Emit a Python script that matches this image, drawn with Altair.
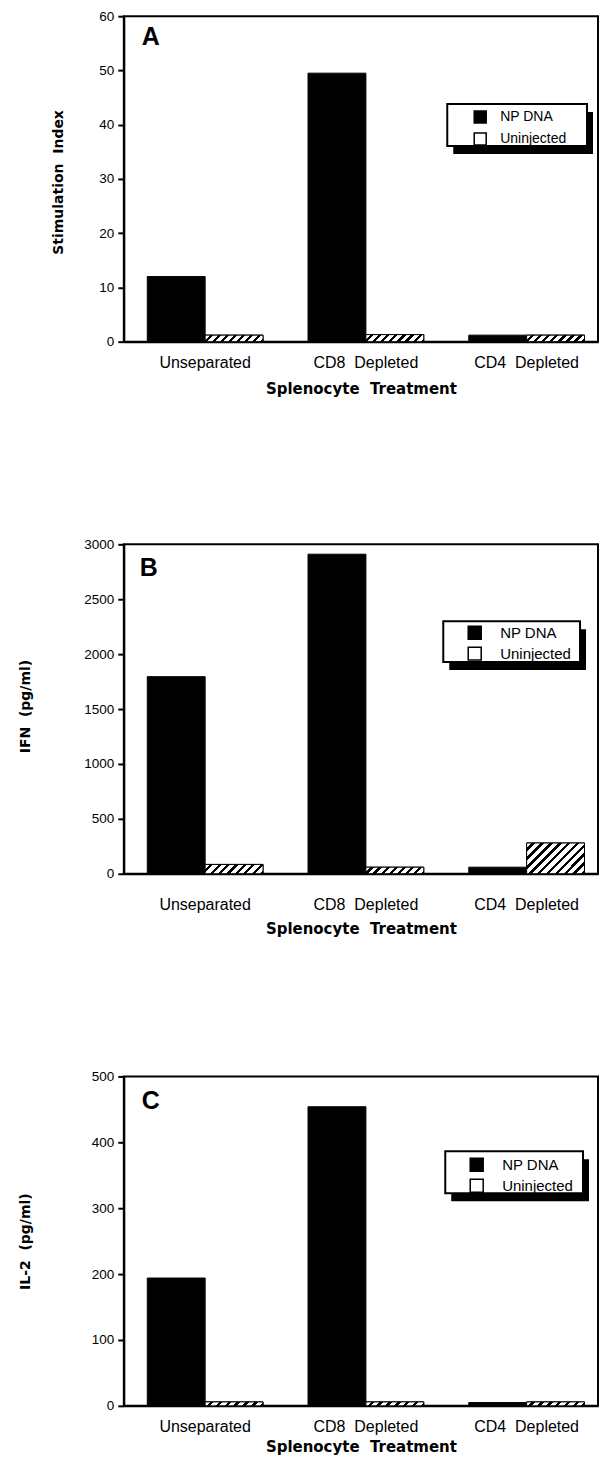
import altair as alt
import pandas as pd

# ---------------- data ----------------
NB = "\u00a0"
treatments = ["Unseparated", "CD8" + NB * 2 + "Depleted", "CD4" + NB * 2 + "Depleted"]
groups = ["NP DNA", "Uninjected"]

# Panel A - Stimulation Index
si_np = [12.0, 49.5, 1.2]
si_un = [1.2, 1.3, 1.2]
# Panel B - IFN (pg/ml)
ifn_np = [1795, 2910, 60]
ifn_un = [85, 60, 280]
# Panel C - IL-2 (pg/ml)
il2_np = [194, 454, 5]
il2_un = [6, 6, 6]

si_ticks = [0, 10, 20, 30, 40, 50, 60]
ifn_ticks = [0, 500, 1000, 1500, 2000, 2500, 3000]
il2_ticks = [0, 100, 200, 300, 400, 500]

# ---------------- styling ----------------
FONT = "Liberation Sans"
TFONT = "DejaVu Sans"
W = 475
BAR_W = 58.0


def hatch(h_px, w_px=BAR_W, period=6.0, ink=0.4):
    """45-degree '/' hatch as a striped linear gradient (style only)."""
    h_px = max(h_px, 1.0)
    s = (w_px + h_px) / (w_px ** 2 + h_px ** 2)
    a, b = w_px * s, h_px * s
    k_n = max(1, round((w_px + h_px) / (2 ** 0.5 * period)))
    stops = []
    for k in range(k_n):
        t0 = k / k_n
        tm = (k + 1 - ink) / k_n
        t1 = (k + 1) / k_n
        stops += [
            alt.GradientStop(color="white", offset=t0),
            alt.GradientStop(color="white", offset=tm),
            alt.GradientStop(color="black", offset=tm),
            alt.GradientStop(color="black", offset=t1),
        ]
    return alt.LinearGradient(gradient="linear", stops=stops, x1=0, y1=0, x2=a, y2=b)


def panel(letter, np_vals, un_vals, ytitle, ymax, ticks, height, o):
    df = pd.DataFrame({
        "treatment": [t for t in treatments for _ in groups],
        "group": groups * len(treatments),
        "value": [v for pair in zip(np_vals, un_vals) for v in pair],
    })
    base = alt.Chart(df).encode(
        x=alt.X(
            "treatment:N",
            sort=treatments,
            scale=alt.Scale(domain=treatments, paddingInner=0.28,
                            paddingOuter=0.115, align=0.635),
            axis=alt.Axis(
                title="Splenocyte" + NB * 2 + "Treatment", labelAngle=0,
                ticks=False, tickSize=0, labelPadding=o["xlp"],
                labelFont=FONT, labelFontSize=16, labelColor="black",
                domainColor="black", domainWidth=2, titleFont=TFONT,
                titleFontSize=15, titleFontWeight="bold", titleColor="black",
                titleY=o["xty"], titleBaseline="middle",
            ),
        ),
        xOffset=alt.XOffset("group:N", sort=groups,
                            scale=alt.Scale(domain=groups, paddingInner=0,
                                            paddingOuter=0)),
        y=alt.Y(
            "value:Q",
            scale=alt.Scale(domain=[0, ymax], nice=False, zero=True),
            axis=alt.Axis(
                values=ticks, format="d", grid=False, tickSize=6,
                tickWidth=2, tickColor="black", domainColor="black",
                domainWidth=2, labelFont=FONT, labelFontSize=13.5,
                labelColor="black", labelPadding=4, title=ytitle,
                titleFont=TFONT, titleFontSize=14, titleFontWeight="bold",
                titleColor="black", titleAngle=270, titleX=o["ytx"],
                titleY=o["yty"], titleAlign="center", titleBaseline="middle",
            ),
        ),
    )
    bars = base.mark_bar(stroke="black", strokeWidth=1).encode(
        color=alt.Color(
            "group:N",
            scale=alt.Scale(domain=groups, range=["black", "white"]),
            legend=alt.Legend(
                title=None, orient="none", legendX=o["lgx"], legendY=o["lgy"],
                padding=0, symbolOffset=0, symbolType="square",
                symbolSize=o["ss"], symbolStrokeColor="black",
                symbolStrokeWidth=1.5, labelFont=FONT,
                labelFontSize=o["lfs"], labelColor="black",
                labelOffset=o["lo"], rowPadding=o["rp"], zindex=1,
            ),
        )
    )
    hatches = []
    for i, t in enumerate(treatments):
        h_px = un_vals[i] / ymax * height
        hatches.append(
            base.transform_filter(alt.datum.treatment == t)
            .transform_filter(alt.datum.group == "Uninjected")
            .mark_bar(fill=hatch(h_px), stroke="black", strokeWidth=1)
        )
    one = pd.DataFrame({"k": [0]})
    lx, ly, lw, lh = o["box"]
    shadow = alt.Chart(one).mark_rect(color="black").encode(
        x=alt.value(lx + 6), x2=alt.value(lx + lw + 6),
        y=alt.value(ly + 8), y2=alt.value(ly + lh + 8),
    )
    box = alt.Chart(one).mark_rect(fill="white", stroke="black", strokeWidth=2).encode(
        x=alt.value(lx), x2=alt.value(lx + lw),
        y=alt.value(ly), y2=alt.value(ly + lh),
    )
    tag = alt.Chart(one).mark_text(
        text=letter, font=FONT, fontSize=25, fontWeight="bold",
        align="left", baseline="middle", color="black",
    ).encode(x=alt.value(o["tx"]), y=alt.value(o["ty"]))
    return alt.layer(bars, *hatches, shadow, box, tag).properties(width=W, height=height)


pA = panel("A", si_np, si_un, "Stimulation" + NB * 2 + "Index", 60, si_ticks, 326,
           dict(xlp=13, xty=47, ytx=-65, yty=166, box=(324, 88, 140, 42),
                lgx=350, lgy=94, ss=144, lfs=14, lo=13, rp=4,
                tx=18, ty=21))
pB = panel("B", ifn_np, ifn_un, "IFN" + NB * 2 + "(pg/ml)", 3000, ifn_ticks, 330,
           dict(xlp=23, xty=55, ytx=-98, yty=162, box=(320, 77, 137, 41),
                lgx=344, lgy=81, ss=169, lfs=15, lo=18, rp=2,
                tx=16, ty=24))
pC = panel("C", il2_np, il2_un, "IL-2" + NB * 2 + "(pg/ml)", 500, il2_ticks, 330,
           dict(xlp=13, xty=41, ytx=-98, yty=165, box=(322, 75, 138, 42),
                lgx=346, lgy=81, ss=169, lfs=15, lo=18, rp=2,
                tx=18, ty=25))

chart = (
    alt.vconcat(pA, pB, pC, spacing=203, bounds="flush")
    .resolve_scale(x="independent", y="independent", color="independent")
    .properties(padding={"left": 10, "top": -1, "right": 0, "bottom": 0},
                background="white")
    .configure_view(stroke="black", strokeWidth=2, fill="white")
)

chart.save("out.html", embed_options={"renderer": "svg", "actions": False})
